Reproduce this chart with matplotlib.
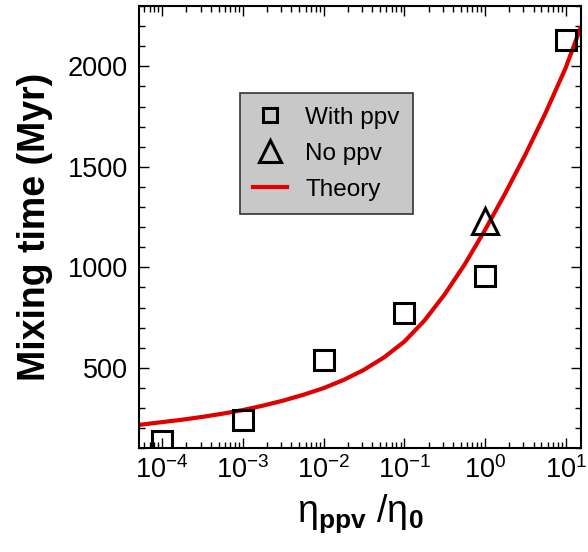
import matplotlib
matplotlib.use("Agg")
import matplotlib.pyplot as plt
import numpy as np
from matplotlib.lines import Line2D
from matplotlib.ticker import LogLocator, MultipleLocator, NullFormatter

plt.rcParams["font.family"] = ["Liberation Sans", "DejaVu Sans"]
plt.rcParams["mathtext.fontset"] = "custom"
plt.rcParams["mathtext.rm"] = "Liberation Sans"
plt.rcParams["mathtext.it"] = "Liberation Sans:italic"
plt.rcParams["mathtext.bf"] = "Liberation Sans:bold"

# simulations with post-perovskite
ppv_ratio = [1e-4, 1e-3, 1e-2, 1e-1, 1e0, 1e1]
mix_ppv = [137, 241, 540, 774, 958, 2129]

# simulation without post-perovskite
noppv_ratio = [1e0]
mix_noppv = [1229]

# theory curve (log10 of viscosity ratio)
theory_logratio = [-4.29, -4.0, -3.75, -3.5, -3.25, -3.0, -2.75, -2.5, -2.25,
                   -2.0, -1.75, -1.5, -1.25, -1.0, -0.75, -0.5, -0.25, 0.0,
                   0.25, 0.5, 0.75, 1.0, 1.19]
theory_mix = [216, 230, 242, 256, 272, 290, 312, 337, 366, 399, 440, 490,
              552, 630, 735, 865, 1015, 1185, 1367, 1560, 1767, 1992, 2197]

fig = plt.figure(figsize=(5.88, 5.52), dpi=100)
ax = fig.add_axes([0.236, 0.188, 0.752, 0.801])

ax.plot(10.0 ** np.array(theory_logratio), theory_mix, color="#e00000", lw=3.0,
        solid_capstyle="butt", solid_joinstyle="round", zorder=2)
ax.plot(ppv_ratio, mix_ppv, ls="none", marker="s", ms=14.5, mfc="none", mec="black",
        mew=2.2, zorder=3)
ax.plot(noppv_ratio, mix_noppv, ls="none", marker="^", ms=19, mfc="none", mec="black",
        mew=2.2, zorder=3)

ax.set_xscale("log")
ax.set_xlim(10 ** -4.29, 10 ** 1.19)
ax.set_ylim(100, 2300)
ax.xaxis.set_major_locator(LogLocator(base=10, numticks=20))
ax.xaxis.set_minor_locator(LogLocator(base=10, subs=np.arange(2, 10), numticks=20))
ax.xaxis.set_minor_formatter(NullFormatter())
ax.yaxis.set_major_locator(MultipleLocator(500))
ax.yaxis.set_minor_locator(MultipleLocator(100))

ax.tick_params(which="both", direction="in", top=True, right=True, width=1.0,
               labelsize=19.5)
ax.tick_params(which="major", length=7)
ax.tick_params(which="minor", length=4.5)
ax.tick_params(axis="y", pad=8)
ax.tick_params(axis="x", pad=6)
for sp in ax.spines.values():
    sp.set_linewidth(1.5)

ax.set_ylabel("Mixing time (Myr)", fontsize=27, fontweight="bold")
ax.yaxis.set_label_coords(-0.195, 0.5)
ax.set_xlabel("η$_{\\mathbf{ppv}}$ /η$_{\\mathbf{0}}$", fontsize=27, labelpad=6)

handles = [
    Line2D([], [], ls="none", marker="s", ms=10.5, mfc="none", mec="black", mew=2.2),
    Line2D([], [], ls="none", marker="^", ms=16, mfc="none", mec="black", mew=2.2),
    Line2D([], [], color="#e00000", lw=3.0),
]
leg = ax.legend(handles, ["With ppv", "No ppv", "Theory"], loc="upper left",
                bbox_to_anchor=(0.2285, 0.803), borderaxespad=0, fontsize=17.5,
                frameon=True, fancybox=False, facecolor="#c8c8c8",
                edgecolor="#333333", framealpha=1.0, handlelength=1.4,
                handletextpad=0.75, borderpad=0.55, labelspacing=0.58)
leg.get_frame().set_linewidth(1.2)

fig.savefig("out.png", dpi=100)
